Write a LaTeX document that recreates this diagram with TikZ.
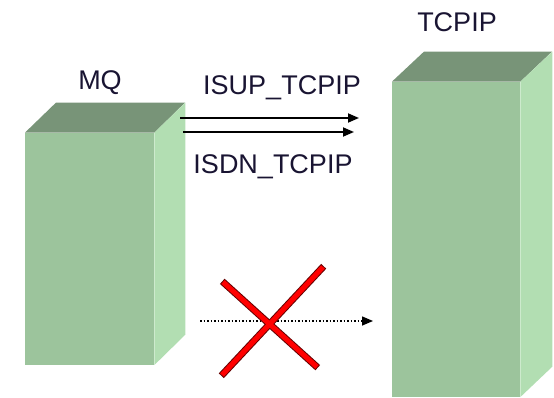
\documentclass[tikz,border=0pt]{standalone}
\usepackage{fontspec}
\setmainfont{Liberation Sans}
\usetikzlibrary{arrows.meta}
\definecolor{frontg}{RGB}{156,196,156}
\definecolor{topg}{RGB}{120,148,120}
\definecolor{sideg}{RGB}{178,222,178}
\definecolor{txt}{RGB}{25,20,50}
\tikzset{
  frontface/.style={fill=frontg, draw=none, inner sep=0pt, anchor=south west},
  topface/.style={fill=topg, draw=none},
  sideface/.style={fill=sideg, draw=none},
  lbl/.style={font=\fontsize{27}{30}\selectfont, text=txt, inner sep=0pt},
  msg/.style={line width=1.8pt, -{Triangle[length=11pt,width=9pt]}},
  blocked/.style={line width=1.5pt, dotted, -{Triangle[length=11pt,width=9pt]}},
  crossout/.style={line width=7pt, red!90!black},
  crossin/.style={line width=5pt, red}
}
\begin{document}
\begin{tikzpicture}[x=1pt,y=1pt]
\clip (0,0) rectangle (554,397);
\useasboundingbox (0,0) rectangle (554,397);
% left box MQ
\node[frontface, minimum width=129pt, minimum height=232pt] (mq) at (25,32) {};
\fill[topg] (mq.north west) -- ++(31,30) -- ++(129,0) -- (mq.north east) -- cycle;
\fill[sideg] (mq.north east) -- ++(31,30) -- ++(0,-232) -- (mq.south east) -- cycle;
% right box TCPIP
\node[frontface, minimum width=128pt, minimum height=315pt] (tcp) at (392,0) {};
\fill[topg] (tcp.north west) -- ++(32,30) -- ++(128,0) -- (tcp.north east) -- cycle;
\fill[sideg] (tcp.north east) -- ++(32,30) -- ++(0,-315) -- (tcp.south east) -- cycle;
% labels
\node[lbl] (mql) at (100,314) {MQ};
\node[lbl] (tcpl) at (457,375) {TCPIP};
\node[lbl] (isup) at (282,309) {ISUP\_TCPIP};
\node[lbl] (isdn) at (273,230) {ISDN\_TCPIP};
% arrows
\coordinate (a1s) at (180,279);
\coordinate (a1e) at (359,279);
\coordinate (a2s) at (183,265);
\coordinate (a2e) at (354,265);
\draw[msg] (a1s) -- (a1e);
\draw[msg] (a2s) -- (a2e);
\coordinate (ds) at (200,76);
\coordinate (de) at (373,76);
\draw[blocked] (ds) -- (de);
% cross
\coordinate (c1a) at (223,115);
\coordinate (c1b) at (317,30);
\coordinate (c2a) at (323,130);
\coordinate (c2b) at (222,22);
\draw[line width=7pt, black!60!red, shorten <=-1pt, shorten >=-1pt] (c1a) -- (c1b);
\draw[line width=7pt, black!60!red, shorten <=-1pt, shorten >=-1pt] (c2a) -- (c2b);
\draw[crossin] (c1a) -- (c1b);
\draw[crossin] (c2a) -- (c2b);
\end{tikzpicture}
\end{document}
